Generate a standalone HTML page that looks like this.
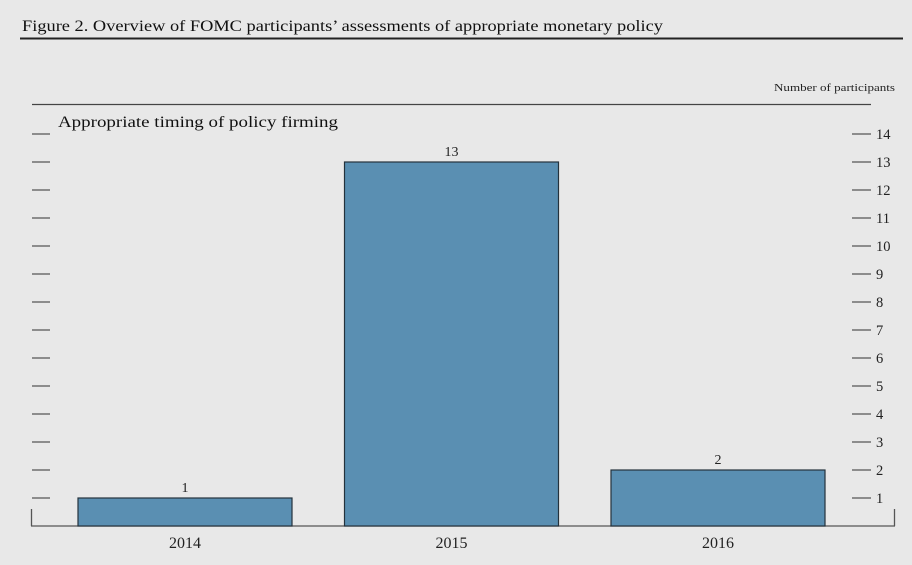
<!DOCTYPE html>
<html><head><meta charset="utf-8"><style>
body{margin:0;background:#e8e8e8;}
svg{display:block;font-family:"Liberation Serif",serif;}
</style></head><body>
<svg id="c" width="912" height="565">
<text x="22" y="31" font-size="15.5" fill="#111" textLength="641" lengthAdjust="spacingAndGlyphs">Figure 2.  Overview of FOMC participants’ assessments of appropriate monetary policy</text>
<line x1="20" y1="38.5" x2="903" y2="38.5" stroke="#222" stroke-width="2"/>
<text x="895" y="91" font-size="11" text-anchor="end" fill="#222" textLength="121" lengthAdjust="spacingAndGlyphs">Number of participants</text>
<line x1="32" y1="104.5" x2="871" y2="104.5" stroke="#444" stroke-width="1.2"/>
<text x="58" y="127" font-size="15.5" fill="#111" textLength="280" lengthAdjust="spacingAndGlyphs">Appropriate timing of policy firming</text>
<g id="axes"></g><g id="bars"></g>
</svg>
<script>
const categories=["2014","2015","2016"];
const values=[1,13,2];
const ticks=[1,2,3,4,5,6,7,8,9,10,11,12,13,14];
const svg=document.getElementById('c');
const NS="http://www.w3.org/2000/svg";
function y(v){return 526-28*v;}
function x(i){return 78+i*266.5;}
const bw=214;
function mk(t,a,p){const e=document.createElementNS(NS,t);for(const k in a)e.setAttribute(k,a[k]);p.appendChild(e);return e;}
const ax=document.getElementById('axes'),bg=document.getElementById('bars');
ticks.forEach(t=>{
 let l=mk('line',{x1:32,x2:50,y1:y(t),y2:y(t),stroke:'#555','stroke-width':1.3},ax);
 
 
 let r=mk('line',{x1:852,x2:871,y1:y(t),y2:y(t),stroke:'#555','stroke-width':1.3},ax);
 
 
 let tx=mk('text',{x:876,y:y(t)+5,'font-size':14.5,fill:'#222'},ax);tx.textContent=t;
 
 
});
let b=mk('line',{x1:31,x2:895,y1:526,y2:526,stroke:'#555','stroke-width':1.3},ax);


[31.5,894.5].forEach(xx=>{let v=mk('line',{x1:xx,x2:xx,y1:509,y2:526,stroke:'#555','stroke-width':1.3},ax);
 
 });
categories.forEach((c,i)=>{
 let r=mk('rect',{x:x(i),y:y(values[i]),width:bw,height:526-y(values[i]),fill:'#5a8fb2',stroke:'#24323c','stroke-width':1.2},bg);
 
 
 let v=mk('text',{x:x(i)+bw/2,y:y(values[i])-6,'font-size':14,'text-anchor':'middle',fill:'#222'},bg);v.textContent=values[i];
 
 
 let l=mk('text',{x:x(i)+bw/2,y:548,'font-size':16,'text-anchor':'middle',fill:'#222'},bg);l.textContent=c;
 
 
});
</script>
</body></html>
